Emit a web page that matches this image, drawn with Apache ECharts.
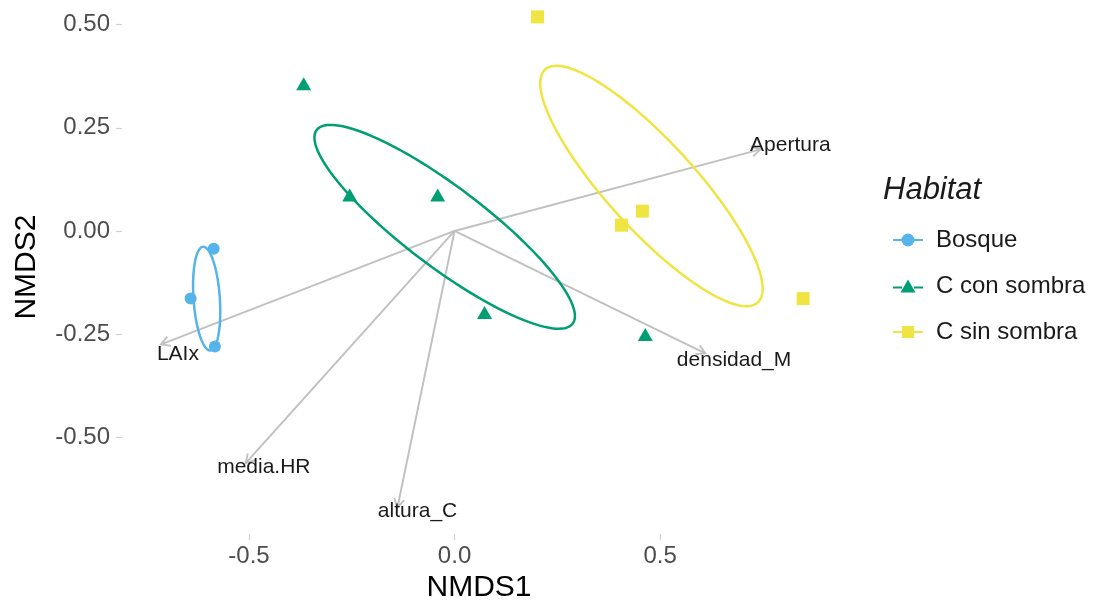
<!DOCTYPE html>
<html>
<head>
<meta charset="utf-8">
<script src="https://cdn.jsdelivr.net/npm/echarts@6/dist/echarts.min.js"></script>
<style>
  html, body { margin: 0; padding: 0; background: #fff; }
  #main { width: 1095px; height: 608px; }
</style>
</head>
<body>
<div id="main"></div>
<script>
// site scores per habitat [NMDS1, NMDS2]
const bosque = [[-0.586, -0.043], [-0.642, -0.164], [-0.583, -0.280]];
const conSombra = [[-0.367, 0.357], [-0.255, 0.087], [-0.041, 0.087], [0.073, -0.198], [0.464, -0.251]];
const sinSombra = [[0.202, 0.519], [0.406, 0.014], [0.457, 0.048], [0.848, -0.164]];

// ellipses: [centre x, centre y, semi-major, semi-minor, angle deg]
const ellBosque = [-0.603, -0.164, 0.126, 0.032, 94];
const ellConSombra = [-0.024, 0.010, 0.39, 0.097, -37];
const ellSinSombra = [0.479, 0.109, 0.383, 0.107, -47.5];

// environmental vectors
const vectorNames = ['Apertura', 'densidad_M', 'altura_C', 'media.HR', 'LAIx'];
const vectorEnds = [[0.744, 0.198], [0.610, -0.297], [-0.139, -0.671], [-0.508, -0.563], [-0.714, -0.275]];
const vectorLabels = [[0.817, 0.208], [0.680, -0.314], [-0.090, -0.679], [-0.464, -0.572], [-0.673, -0.300]];

const xTicks = [-0.5, 0, 0.5];
const yTicks = [-0.5, -0.25, 0, 0.25, 0.5];

const groups = ['Bosque', 'C con sombra', 'C sin sombra'];
const colors = ['#56B4E9', '#009E73', '#F0E442'];
const FONT = 'Liberation Sans, Arial, sans-serif';

const chart = echarts.init(document.getElementById('main'));

function ellipseItem(params, api) {
  const cx = api.value(0), cy = api.value(1), a = api.value(2), b = api.value(3);
  const th = api.value(4) * Math.PI / 180;
  const pts = [];
  for (let k = 0; k <= 120; k++) {
    const t = k / 120 * 2 * Math.PI;
    const px = cx + a * Math.cos(t) * Math.cos(th) - b * Math.sin(t) * Math.sin(th);
    const py = cy + a * Math.cos(t) * Math.sin(th) + b * Math.sin(t) * Math.cos(th);
    pts.push(api.coord([px, py]));
  }
  return {
    type: 'polyline',
    shape: { points: pts },
    style: { stroke: colors[api.value(5)], lineWidth: 2.5, fill: null }
  };
}

function arrowItem(params, api) {
  const i = params.dataIndex;
  const o = api.coord([0, 0]);
  const t = api.coord([api.value(0), api.value(1)]);
  const lp = api.coord([api.value(2), api.value(3)]);
  const ang = Math.atan2(t[1] - o[1], t[0] - o[0]);
  const L = 10, w = Math.PI / 6;
  const h1 = [t[0] - L * Math.cos(ang - w), t[1] - L * Math.sin(ang - w)];
  const h2 = [t[0] - L * Math.cos(ang + w), t[1] - L * Math.sin(ang + w)];
  return {
    type: 'group',
    children: [
      { type: 'line', shape: { x1: o[0], y1: o[1], x2: t[0], y2: t[1] }, style: { stroke: '#C0C0C0', lineWidth: 1.9 } },
      { type: 'polyline', shape: { points: [h1, t, h2] }, style: { stroke: '#C0C0C0', lineWidth: 1.9, fill: null } },
      { type: 'text', x: lp[0], y: lp[1], style: { text: vectorNames[i], align: 'center', verticalAlign: 'middle', fontSize: 21, fontFamily: FONT, fill: '#1a1a1a' } }
    ]
  };
}

const option = {
  animation: false,
  backgroundColor: '#fff',
  title: {
    text: 'Habitat', left: 883, top: 175, padding: 0,
    textStyle: { fontSize: 31, fontStyle: 'italic', fontWeight: 'normal', color: '#1a1a1a', fontFamily: FONT }
  },
  legend: {
    orient: 'vertical', left: 888, top: 223, itemWidth: 30, itemHeight: 13, itemGap: 22,
    textStyle: { fontSize: 24, color: '#1a1a1a', fontFamily: FONT, padding: [0, 0, 0, 8] },
    data: [
      { name: 'Bosque', icon: 'path://M0,5.5L9.5,5.5L9.5,7.5L0,7.5Z M20.5,5.5L30,5.5L30,7.5L20.5,7.5Z M8.5,6.5A6.5,6.5 0 1 1 21.5,6.5A6.5,6.5 0 1 1 8.5,6.5Z' },
      { name: 'C con sombra', icon: 'path://M0,7L9,7L9,9L0,9Z M21,7L30,7L30,9L21,9Z M15,0L22.5,13L7.5,13Z' },
      { name: 'C sin sombra', icon: 'path://M0,5.5L9,5.5L9,7.5L0,7.5Z M21,5.5L30,5.5L30,7.5L21,7.5Z M9,0.5L21,0.5L21,12.5L9,12.5Z' }
    ]
  },
  grid: { left: 122, right: 259, top: 0, bottom: 72 },
  xAxis: {
    type: 'value', min: -0.809, max: 0.928,
    name: 'NMDS1', nameLocation: 'middle', nameGap: 38,
    nameTextStyle: { fontSize: 30, color: '#000', fontFamily: FONT },
    axisLine: { show: false, onZero: false },
    splitLine: { show: false },
    axisTick: { show: true, customValues: xTicks, length: 6, lineStyle: { color: '#D0D0D0', width: 1.2 } },
    axisLabel: { customValues: xTicks, margin: 10, fontSize: 24, color: '#4D4D4D', fontFamily: FONT, formatter: v => v.toFixed(1) }
  },
  yAxis: {
    type: 'value', min: -0.735, max: 0.560,
    name: 'NMDS2', nameLocation: 'middle', nameGap: 80, nameRotate: 90,
    nameTextStyle: { fontSize: 30, color: '#000', fontFamily: FONT },
    axisLine: { show: false, onZero: false },
    splitLine: { show: false },
    axisTick: { show: true, customValues: yTicks, length: 6, lineStyle: { color: '#D0D0D0', width: 1.2 } },
    axisLabel: { customValues: yTicks, margin: 12, fontSize: 24, color: '#4D4D4D', fontFamily: FONT, formatter: v => v.toFixed(2) }
  },
  series: [
    { type: 'custom', name: 'vectors', z: 1, silent: true, renderItem: arrowItem,
      data: vectorEnds.map((e, i) => [e[0], e[1], vectorLabels[i][0], vectorLabels[i][1]]) },
    { type: 'custom', name: 'ellipses', z: 2, silent: true, renderItem: ellipseItem,
      data: [ellBosque.concat(0), ellConSombra.concat(1), ellSinSombra.concat(2)] },
    { type: 'scatter', name: groups[0], z: 3, data: bosque, symbol: 'circle', symbolSize: 12, itemStyle: { color: colors[0], opacity: 1 } },
    { type: 'scatter', name: groups[1], z: 3, data: conSombra, symbol: 'triangle', symbolSize: [15, 13], itemStyle: { color: colors[1], opacity: 1 } },
    { type: 'scatter', name: groups[2], z: 3, data: sinSombra, symbol: 'rect', symbolSize: 13, itemStyle: { color: colors[2], opacity: 1 } }
  ]
};

chart.setOption(option);
</script>
</body>
</html>
